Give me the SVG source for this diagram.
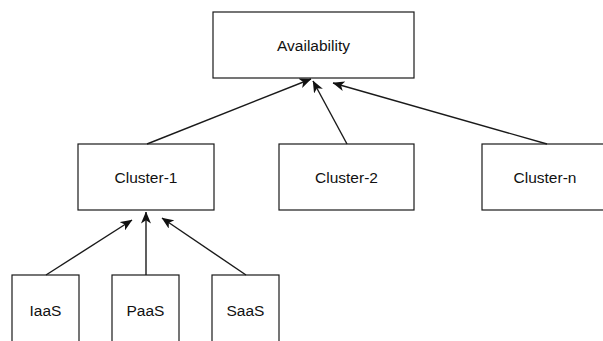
<svg xmlns="http://www.w3.org/2000/svg" width="603" height="341" viewBox="0 0 603 341">
  <style>
    .box { fill: #ffffff; stroke: #1a1a1a; stroke-width: 1.2; }
    .label { font-family: "Liberation Sans", Arial, sans-serif; font-size: 15.5px; fill: #111111; text-anchor: middle; }
    .edge { fill: none; stroke: #1a1a1a; stroke-width: 1.4; }
  </style>
  <defs>
    <marker id="arrow" markerUnits="userSpaceOnUse" viewBox="0 0 12 10" refX="11.5" refY="5" markerWidth="12" markerHeight="10" orient="auto">
      <path d="M0,0 L12,5 L0,10 L3.2,5 Z" fill="#111111"/>
    </marker>
  </defs>
  <rect width="603" height="341" fill="#ffffff"/>

  <g id="availability">
    <rect class="box" x="213" y="12" width="201" height="66"/>
    <text class="label" x="313.5" y="51">Availability</text>
  </g>
  <g id="cluster-1">
    <rect class="box" x="78" y="144" width="136" height="66"/>
    <text class="label" x="146" y="182.5">Cluster-1</text>
  </g>
  <g id="cluster-2">
    <rect class="box" x="279" y="144" width="135" height="66"/>
    <text class="label" x="346.5" y="182.5">Cluster-2</text>
  </g>
  <g id="cluster-n">
    <rect class="box" x="482" y="144" width="132" height="66"/>
    <text class="label" x="545" y="182.5">Cluster-n</text>
  </g>
  <g id="iaas">
    <rect class="box" x="12" y="275" width="67" height="80"/>
    <text class="label" x="45.5" y="315.5">IaaS</text>
  </g>
  <g id="paas">
    <rect class="box" x="112" y="275" width="67" height="80"/>
    <text class="label" x="145.5" y="315.5">PaaS</text>
  </g>
  <g id="saas">
    <rect class="box" x="212" y="275" width="67" height="80"/>
    <text class="label" x="245.5" y="315.5">SaaS</text>
  </g>

  <g id="connectors">
    <line class="edge" x1="147" y1="144" x2="311" y2="79" marker-end="url(#arrow)"/>
    <line class="edge" x1="347" y1="144" x2="313" y2="81" marker-end="url(#arrow)"/>
    <line class="edge" x1="547" y1="144" x2="333" y2="83" marker-end="url(#arrow)"/>
    <line class="edge" x1="46" y1="275" x2="132" y2="220" marker-end="url(#arrow)"/>
    <line class="edge" x1="146" y1="275" x2="146" y2="212" marker-end="url(#arrow)"/>
    <line class="edge" x1="246" y1="275" x2="162" y2="218" marker-end="url(#arrow)"/>
  </g>
</svg>
